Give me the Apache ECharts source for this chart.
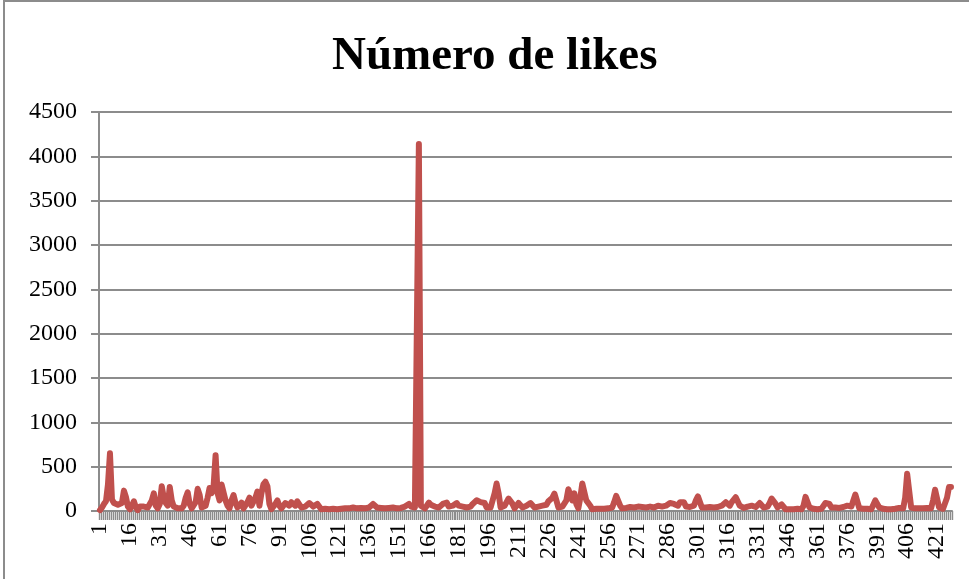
<!DOCTYPE html>
<html>
<head>
<meta charset="utf-8">
<script src="https://cdn.jsdelivr.net/npm/echarts@6/dist/echarts.min.js"></script>
<style>
  html, body { margin: 0; padding: 0; background: #fff; }
  #chart { width: 969px; height: 579px; }
</style>
</head>
<body>
<div id="chart"></div>
<script>
var chartTitle = 'Número de likes'
var yTicks = [0, 500, 1000, 1500, 2000, 2500, 3000, 3500, 4000, 4500]

// likes per post (post 1..428)
var likes = [
  10, 40, 80, 110, 300, 650, 130, 90, 80, 70, 60, 90, 230, 160, 50,
  20, 60, 110, 40, 10, 50, 45, 50, 30, 40, 60, 120, 200, 60, 30,
  80, 280, 150, 90, 60, 270, 120, 50, 40, 30, 20, 30, 60, 150, 210,
  80, 30, 40, 100, 250, 180, 40, 20, 60, 150, 260, 200, 280, 630, 200,
  120, 300, 280, 120, 60, 30, 120, 180, 90, 40, 60, 95, 30, 50, 100,
  150, 60, 40, 150, 220, 60, 200, 300, 330, 280, 80, 20, 40, 80, 120,
  60, 30, 40, 90, 100, 60, 100, 80, 60, 110, 100, 40, 30, 50, 70,
  90, 100, 50, 40, 80, 50, 20, 30, 25, 30, 20, 30, 25, 35, 20,
  30, 25, 35, 30, 40, 30, 35, 40, 60, 30, 40, 35, 50, 30, 25,
  40, 60, 80, 95, 40, 30, 35, 40, 30, 40, 35, 30, 40, 35, 30,
  40, 35, 30, 50, 70, 80, 50, 40, 40, 60, 4140, 60, 40, 30, 60,
  95, 70, 60, 50, 60, 40, 50, 80, 100, 95, 50, 40, 60, 80, 90,
  60, 40, 50, 45, 40, 60, 50, 80, 100, 120, 130, 100, 80, 90, 40,
  30, 40, 60, 200, 310, 200, 40, 30, 60, 100, 140, 150, 80, 30, 50,
  90, 80, 40, 60, 60, 50, 90, 80, 40, 50, 50, 40, 60, 50, 70,
  110, 90, 150, 195, 120, 40, 40, 50, 60, 120, 245, 230, 120, 200, 80,
  30, 150, 310, 290, 120, 110, 60, 20, 20, 25, 20, 25, 30, 25, 30,
  30, 25, 40, 100, 170, 170, 60, 30, 40, 35, 40, 45, 50, 40, 45,
  50, 40, 45, 50, 40, 60, 50, 45, 40, 50, 60, 70, 50, 40, 60,
  80, 90, 100, 80, 100, 60, 100, 90, 100, 50, 40, 45, 40, 60, 120,
  165, 160, 40, 35, 40, 50, 45, 50, 40, 50, 45, 40, 60, 80, 100,
  90, 60, 100, 80, 155, 150, 60, 40, 35, 40, 50, 70, 60, 40, 45,
  60, 90, 80, 40, 45, 50, 90, 140, 150, 80, 40, 50, 75, 70, 20,
  20, 20, 25, 20, 20, 25, 20, 20, 60, 160, 165, 40, 20, 25, 20,
  20, 20, 25, 40, 90, 105, 80, 40, 45, 40, 40, 35, 40, 45, 40,
  60, 80, 50, 120, 185, 170, 30, 20, 25, 20, 25, 20, 20, 40, 120,
  130, 40, 20, 25, 20, 20, 25, 20, 30, 25, 30, 35, 40, 30, 150,
  420, 400, 40, 25, 30, 25, 30, 40, 30, 25, 35, 40, 30, 120, 240,
  235, 40, 20, 25, 20, 150, 270, 270
]

var posts = []
for (var i = 1; i <= likes.length; i++) posts.push(String(i))

var myChart = echarts.init(document.getElementById('chart'))

var option = {
  animation: false,
  backgroundColor: '#fff',
  graphic: [{
    type: 'rect',
    shape: { x: 4, y: 1, width: 1200, height: 1200 },
    style: { fill: 'none', stroke: '#8c8c8c', lineWidth: 2 },
    silent: true
  }],
  title: {
    text: chartTitle,
    left: 327,
    top: 28,
    textStyle: {
      fontFamily: 'Liberation Serif',
      fontWeight: 'bold',
      fontSize: 47,
      color: '#000'
    }
  },
  grid: { left: 99, right: 17, top: 112, bottom: 68 },
  xAxis: {
    type: 'category',
    data: posts,
    boundaryGap: true,
    axisLine: { lineStyle: { color: '#8c8c8c', width: 2 } },
    axisTick: {
      show: true,
      interval: function () { return true },
      length: 9,
      lineStyle: { color: '#8c8c8c', width: 1.4 }
    },
    axisLabel: {
      interval: 14,
      rotate: 90,
      margin: 12,
      fontFamily: 'Liberation Serif',
      fontSize: 24,
      color: '#000'
    }
  },
  yAxis: {
    type: 'value',
    min: yTicks[0],
    max: yTicks[yTicks.length - 1],
    interval: 500,
    axisLine: { show: true, lineStyle: { color: '#8c8c8c', width: 2 } },
    axisTick: { show: true, length: 8, lineStyle: { color: '#8c8c8c', width: 2 } },
    axisLabel: {
      margin: 22,
      fontFamily: 'Liberation Serif',
      fontSize: 24,
      color: '#000',
      formatter: function (v) { return String(v) }
    },
    splitLine: { lineStyle: { color: '#8c8c8c', width: 2 } }
  },
  series: [{
    type: 'line',
    data: likes,
    symbol: 'none',
    lineStyle: { color: '#c0504d', width: 6, join: 'round', cap: 'round' },
    itemStyle: { color: '#c0504d' }
  }]
}

myChart.setOption(option)
</script>
</body>
</html>
